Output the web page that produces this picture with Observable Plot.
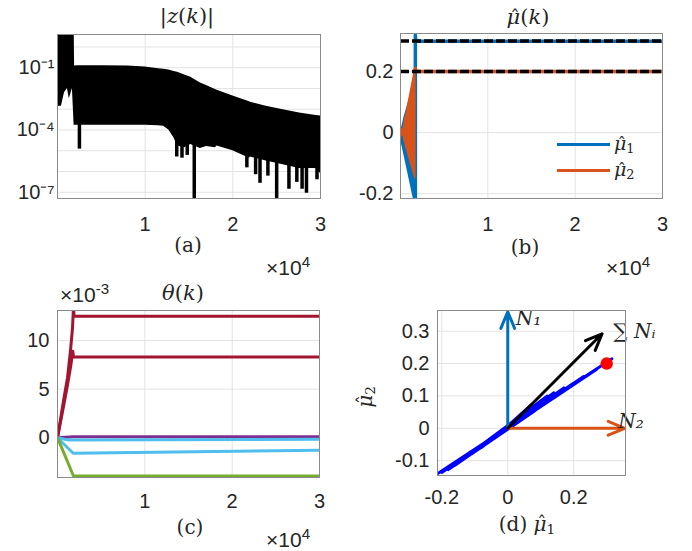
<!DOCTYPE html>
<html><head><meta charset="utf-8">
<script src="https://cdn.jsdelivr.net/npm/d3@7"></script>
<script src="https://cdn.jsdelivr.net/npm/@observablehq/plot@0.6"></script>
<style>
body{margin:0;background:#fff;}
#fig{position:relative;width:692px;height:551px;overflow:hidden;background:#fff;font-family:"Liberation Sans",Arial,sans-serif;color:#262626;}
.p{position:absolute;}
.t{position:absolute;transform:translate(-50%,-50%);white-space:nowrap;line-height:1;}
.l{position:absolute;white-space:nowrap;line-height:1;}
.m{font-family:"DejaVu Serif","Liberation Serif",serif;font-size:20px;}
.s{font-size:21px;}
sup{font-size:0.72em;vertical-align:0.5em;line-height:0;}
sub{font-size:0.68em;vertical-align:-0.25em;line-height:0;}
.hat{position:relative;display:inline-block;font-style:italic;}
.hat::after{content:"\02C6";position:absolute;left:0.2em;top:0.04em;font-style:normal;font-size:0.9em;}
.sw{position:absolute;height:3px;}
</style></head><body><div id="fig"></div>
<script>
// ---------- (a) |z(k)| ----------
const zX     = [100, 450, 800, 1130, 1350, 1700, 1900, 1950, 2300, 5000, 8000, 10000, 11500, 12100, 12700, 13300, 13700, 14500, 15200, 16300, 17000, 18000, 18200, 20000, 21900, 22000, 23800, 25600, 27600, 29500, 30000];
const zUpper = [10, 10, 10, 10, 10, 10, 10, 0.12, 0.125, 0.126, 0.12, 0.107, 0.089, 0.085, 0.077, 0.066, 0.06, 0.045, 0.035, 0.0186, 0.014, 0.0089, 0.0082, 0.0043, 0.0023, 0.0022, 0.0014, 0.00098, 0.00065, 0.0005, 0.00047];
const zLower = [0.0014, 0.0014, 0.0063, 0.01, 0.0032, 0.01, 0.00016, 0.00017, 0.00017, 0.00017, 0.00017, 0.00017, 0.00016, 0.00015, 0.0001, 0.00004, 0.000017, 0.000014, 0.00002, 0.000013, 0.000016, 0.000014, 0.000017, 0.00001, 0.0000044, 0.000005, 0.0000032, 0.0000022, 0.0000014, 0.0000014, 0.0000008];
const spikeX   = [2500, 13600, 14200, 14800, 15600, 21600, 22600, 23100, 24000, 25000, 26400, 27300, 27900, 28400, 29600];
const spikeLow = [1.2e-5, 5e-6, 4.4e-6, 6e-6, 3e-8, 1.5e-6, 7e-7, 2.7e-7, 6e-7, 3e-8, 1.4e-7, 3e-7, 1.4e-7, 9e-8, 4e-7];
const zTicksY = [1e-7, 1e-4, 1e-1];
const zGridY = [1e0, 1e-1, 1e-2, 1e-3, 1e-4, 1e-5, 1e-6, 1e-7];
const xTicks = [10000, 20000, 30000];
const xGrid = [10000, 20000];

// ---------- (b) mu_hat(k) ----------
const mu1FanX  = [0, 400, 800, 1200, 1600];
const mu1FanLo = [0, -0.055, -0.11, -0.165, -0.22];
const mu1FanHi = [0, 0.05, 0.09, 0.13, 0.15];
const mu1LineX = [0, 1650, 1700, 1700, 1750, 30000];
const mu1LineY = [0, -0.22, -0.22, 0.32, 0.3, 0.3];
const mu2FanX  = [0, 150, 300, 500, 900, 1300, 1700];
const mu2FanLo = [0, -0.012, 0, -0.03, -0.07, -0.11, -0.15];
const mu2FanHi = [0, 0.012, 0, 0.035, 0.09, 0.15, 0.21];
const mu2LineX = [1700, 1750, 30000];
const mu2LineY = [0.21, 0.2, 0.2];
const muRef = [0.3, 0.2];
const muTicksY = [-0.2, 0, 0.2];

// ---------- (c) theta(k) x 1e-3 ----------
const thetaSeries = [
  {name: "t1", color: "#A2142F", x: [0, 690, 1150, 1490, 1720, 1830, 1900, 30000], y: [0, 3.8, 6.2, 9.0, 11.3, 13.5, 12.5, 12.5]},
  {name: "t2", color: "#A2142F", x: [0, 600, 1100, 1500, 1750, 1830, 30000], y: [0, 2.8, 5.2, 7.3, 8.9, 8.3, 8.3]},
  {name: "t3", color: "#7E2F8E", x: [0, 1800, 30000], y: [0, 0.1, 0.1]},
  {name: "t4", color: "#4DBEEE", x: [0, 1300, 30000], y: [0, -0.25, -0.15]},
  {name: "t5", color: "#4DBEEE", x: [0, 1800, 30000], y: [0, -1.6, -1.3]},
  {name: "t6", color: "#77AC30", x: [0, 1830, 30000], y: [0, -3.95, -3.95]}
];
const thetaTicksY = [0, 5, 10];

// ---------- (d) trajectory ----------
const trajX = [0, 0.03, -0.02, 0.07, -0.04, 0.05, -0.06, 0.09, -0.08, 0.12, -0.1, 0.08, -0.11, 0.14, -0.13, 0.1, -0.15, 0.17, -0.16, 0.2, -0.18, 0.23, -0.2, 0.27, -0.214, 0.316, 0.30];
const trajY = [0, 0.03, -0.011, 0.072, -0.03, 0.035, -0.045, 0.07, -0.06, 0.1, -0.067, 0.052, -0.08, 0.11, -0.09, 0.077, -0.105, 0.125, -0.115, 0.14, -0.128, 0.16, -0.137, 0.182, -0.141, 0.215, 0.20];
const vecNames = ["N\u2081", "N\u2082", "\u2211 N\u1D62"];
const vecX = [0, 0.355, 0.286];
const vecY = [0.36, 0, 0.292];
const vecColors = ["#0072BD", "#D95319", "#000000"];
const labelX = [0.024, 0.335, 0.32];
const labelY = [0.34, 0.02, 0.30];
const finalPoint = [{x: 0.30, y: 0.20}];
const dTicksX = [-0.2, 0, 0.2];
const dTicksY = [-0.1, 0, 0.1, 0.2, 0.3];

// ---------- helpers ----------
const fig = document.getElementById("fig");
const style = {fontSize: "20px", fontFamily: "Liberation Sans, Arial, sans-serif", color: "#262626", background: "transparent", overflow: "visible"};
const gridC = "#e3e3e3", frameC = "#8a8a8a";
function place(svg, left, top) { svg.classList.add("p"); svg.style.left = left + "px"; svg.style.top = top + "px"; fig.appendChild(svg); }
function txt(html, x, y, cls, extra) { const d = document.createElement("div"); d.className = cls; d.innerHTML = html; d.style.left = x + "px"; d.style.top = y + "px"; if (extra) Object.assign(d.style, extra); fig.appendChild(d); return d; }
const sup = {"-": "\u207B", "0": "\u2070", "1": "\u00B9", "2": "\u00B2", "3": "\u00B3", "4": "\u2074", "5": "\u2075", "6": "\u2076", "7": "\u2077", "8": "\u2078", "9": "\u2079"};
const powFmt = d => "10" + String(Math.round(Math.log10(d))).split("").map(c => sup[c]).join("");
const muHat = "<span class='hat'>\u03BC</span>";

// (a)
const zData = zX.map((x, i) => ({x, lo: zLower[i], hi: zUpper[i]}));
const spikes = spikeX.map((x, i) => ({x, lo: spikeLow[i]}));
place(Plot.plot({
  width: 340, height: 250, marginLeft: 57, marginRight: 20, marginTop: 34, marginBottom: 52, style,
  x: {domain: [0, 30000], label: null},
  y: {type: "log", domain: [Math.pow(10, -7.3), Math.pow(10, 0.6)], label: null},
  marks: [
    Plot.ruleY(zGridY, {stroke: gridC}),
    Plot.ruleX(xGrid, {stroke: gridC}),
    Plot.areaY(zData, {x: "x", y1: "lo", y2: "hi", fill: "black", clip: true}),
    Plot.ruleX(spikes, {x: "x", y1: "lo", y2: 2e-4, stroke: "black", strokeWidth: 3.5, clip: true}),
    Plot.frame({stroke: frameC}),
    Plot.axisX({ticks: xTicks, tickFormat: d => d / 1e4, tickSize: 0, tickPadding: 18}),
    Plot.axisY({ticks: zTicksY, tickFormat: powFmt, tickSize: 0, tickPadding: 3})
  ]
}), 0, 0);

// (b)
const mu1Fan = mu1FanX.map((x, i) => ({x, lo: mu1FanLo[i], hi: mu1FanHi[i]}));
const mu2Fan = mu2FanX.map((x, i) => ({x, lo: mu2FanLo[i], hi: mu2FanHi[i]}));
const mu1Line = mu1LineX.map((x, i) => ({x, y: mu1LineY[i]}));
const mu2Line = mu2LineX.map((x, i) => ({x, y: mu2LineY[i]}));
place(Plot.plot({
  width: 352, height: 250, marginLeft: 60, marginRight: 30, marginTop: 33, marginBottom: 52, style,
  x: {domain: [0, 30000], label: null},
  y: {domain: [-0.216, 0.325], label: null},
  marks: [
    Plot.ruleY(muTicksY, {stroke: gridC}),
    Plot.ruleX(xGrid, {stroke: gridC}),
    Plot.areaY(mu1Fan, {x: "x", y1: "lo", y2: "hi", fill: "#0072BD", clip: true}),
    Plot.line(mu1Line, {x: "x", y: "y", stroke: "#0072BD", strokeWidth: 3.5, clip: true}),
    Plot.areaY(mu2Fan, {x: "x", y1: "lo", y2: "hi", fill: "#D95319", stroke: "#D95319", strokeWidth: 1.5, clip: true}),
    Plot.line(mu2Line, {x: "x", y: "y", stroke: "#D95319", strokeWidth: 3.5, clip: true}),
    Plot.ruleY(muRef, {stroke: "black", strokeWidth: 3.5, strokeDasharray: "9,3"}),
    Plot.frame({stroke: frameC}),
    Plot.axisX({ticks: xTicks, tickFormat: d => d / 1e4, tickSize: 0, tickPadding: 18}),
    Plot.axisY({ticks: muTicksY, tickFormat: d => d === 0 ? "0" : d.toFixed(1), tickSize: 0, tickPadding: 7})
  ]
}), 340, 0);

// (c)
const thetaData = thetaSeries.flatMap(s => s.x.map((x, i) => ({name: s.name, color: s.color, x, y: s.y[i]})));
place(Plot.plot({
  width: 340, height: 276, marginLeft: 57, marginRight: 21, marginTop: 35, marginBottom: 74, style,
  x: {domain: [0, 30000], label: null},
  y: {domain: [-4.1, 13.1], label: null},
  marks: [
    Plot.ruleY(thetaTicksY, {stroke: gridC}),
    Plot.ruleX(xGrid, {stroke: gridC}),
    Plot.line(thetaData, {x: "x", y: "y", z: "name", stroke: "color", strokeWidth: 3, clip: true}),
    Plot.frame({stroke: frameC}),
    Plot.axisX({ticks: xTicks, tickFormat: d => d / 1e4, tickSize: 0, tickPadding: 16}),
    Plot.axisY({ticks: thetaTicksY, tickSize: 0, tickPadding: 8})
  ]
}), 0, 275);

// (d)
const traj = trajX.map((x, i) => ({x, y: trajY[i]}));
const vecs = vecNames.map((n, i) => ({n, x2: vecX[i], y2: vecY[i], c: vecColors[i], lx: labelX[i], ly: labelY[i]}));
place(Plot.plot({
  width: 352, height: 276, marginLeft: 97, marginRight: 67, marginTop: 35, marginBottom: 76, style,
  x: {domain: [-0.213, 0.357], label: null},
  y: {domain: [-0.146, 0.364], label: null},
  marks: [
    Plot.ruleY(dTicksY, {stroke: gridC}),
    Plot.ruleX(dTicksX, {stroke: gridC}),
    Plot.line(traj, {x: "x", y: "y", stroke: "#0000FF", strokeWidth: 2.8, clip: true}),
    Plot.arrow(vecs, {x1: 0, y1: 0, x2: "x2", y2: "y2", stroke: "c", strokeWidth: 3, headLength: 9, headAngle: 45}),
    Plot.dot(finalPoint, {x: "x", y: "y", r: 5.5, fill: "#FF0000", stroke: "#FF0000"}),
    Plot.text(vecs, {x: "lx", y: "ly", text: "n", textAnchor: "start", fontSize: 20, fontFamily: "DejaVu Serif, Liberation Serif, serif", fontStyle: "italic", fill: "#262626"}),
    Plot.frame({stroke: frameC}),
    Plot.axisX({ticks: dTicksX, tickFormat: d => d === 0 ? "0" : d.toFixed(1), tickSize: 0, tickPadding: 14}),
    Plot.axisY({ticks: dTicksY, tickFormat: d => d === 0 ? "0" : d.toFixed(1), tickSize: 0, tickPadding: 8})
  ]
}), 340, 275);

// ---------- texts ----------
txt("|<i>z</i>(<i>k</i>)|", 187, 16, "t m", {fontSize: "21px"});
txt(muHat + "(<i>k</i>)", 528, 17, "t m", {fontSize: "21px"});
txt("<i>\u03B8</i>(<i>k</i>)", 183, 293, "t m", {fontSize: "21px"});
txt("\u00D710<sup>-3</sup>", 60, 284, "l s");
txt("(a)", 188, 245, "t m");
txt("(b)", 525, 247, "t m");
txt("(c)", 190, 527, "t m");
txt("(d) " + muHat + "<sub>1</sub>", 527, 524, "t m");
txt("\u00D710<sup>4</sup>", 266, 257, "l s");
txt("\u00D710<sup>4</sup>", 606, 257, "l s");
txt("\u00D710<sup>4</sup>", 266, 529, "l s");
txt(muHat + "<sub>2</sub>", 365, 397, "t m", {transform: "translate(-50%,-50%) rotate(-90deg)"});
// legend (b)
const legend = [{label: muHat + "<sub>1</sub>", color: "#0072BD", y: 144}, {label: muHat + "<sub>2</sub>", color: "#D95319", y: 170}];
legend.forEach(l => {
  const s = document.createElement("div"); s.className = "sw"; s.style.left = "557px"; s.style.width = "53px"; s.style.top = (l.y - 1.5) + "px"; s.style.background = l.color; fig.appendChild(s);
  txt(l.label, 614, l.y - 10, "l m", {fontSize: "19px"});
});
</script></body></html>
